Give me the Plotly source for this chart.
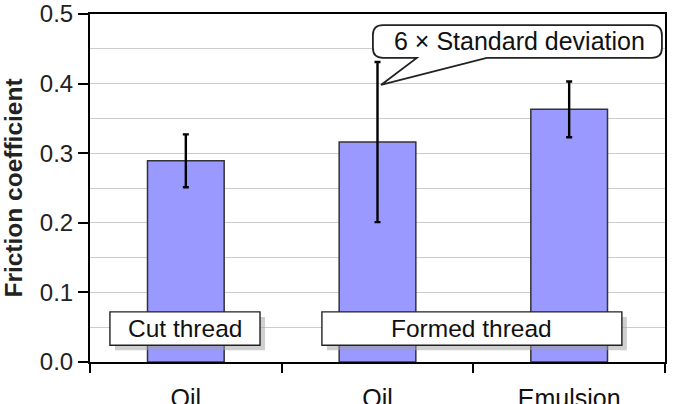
import plotly.graph_objects as go

categories = ["Oil", "Oil", "Emulsion"]
friction = [0.289, 0.316, 0.363]
errors = [0.038, 0.115, 0.040]
y_ticks = [0.0, 0.1, 0.2, 0.3, 0.4, 0.5]

x_pos = list(range(len(categories)))
fig = go.Figure()
fig.add_trace(go.Bar(
    x=x_pos, y=friction, width=0.4,
    marker=dict(color="#9999ff", line=dict(color="#333333", width=1.5)),
    error_y=dict(type="data", array=errors, color="black", thickness=2.4, width=3),
))

# pixel helpers (plot area 575 x 348 px)
px_x = 3 / 575
px_y = 0.5 / 348

def box(x0, x1, y0, y1):
    # shadow
    fig.add_shape(type="rect", x0=x0 + 5 * px_x, x1=x1 + 5 * px_x, y0=y0 - 5 * px_y, y1=y1 - 5 * px_y,
                  fillcolor="rgba(160,160,160,0.5)", line=dict(width=0), layer="above")
    fig.add_shape(type="rect", x0=x0, x1=x1, y0=y0, y1=y1,
                  fillcolor="white", line=dict(color="#222", width=1.4), layer="above")

box(-0.396, 0.387, 0.024, 0.072)
box(0.71, 2.275, 0.024, 0.072)

# callout
x0, x1, y0, y1 = 0.976, 2.484, 0.437, 0.484
rx, ry = 10 * px_x, 10 * px_y
bx0, bx1 = 1.205, 1.57
tipx, tipy = 1.018, 0.398
path = (f"M {x0+rx},{y1} L {x1-rx},{y1} Q {x1},{y1} {x1},{y1-ry} L {x1},{y0+ry} Q {x1},{y0} {x1-rx},{y0} "
        f"L {bx1},{y0} L {tipx},{tipy} L {bx0},{y0} L {x0+rx},{y0} Q {x0},{y0} {x0},{y0+ry} "
        f"L {x0},{y1-ry} Q {x0},{y1} {x0+rx},{y1} Z")
fig.add_shape(type="path", path=path, fillcolor="white", line=dict(color="#222", width=1.8), layer="above")

fnt = dict(family="Liberation Sans, Arial", size=25, color="#111")
fig.add_annotation(x=1.74, y=0.461, text="6 × Standard deviation", showarrow=False, font=fnt)
fig.add_annotation(x=-0.004, y=0.048, text="Cut thread", showarrow=False, font=dict(fnt, size=24.5))
fig.add_annotation(x=1.49, y=0.048, text="Formed thread", showarrow=False, font=dict(fnt, size=24.5))

fig.update_layout(
    width=673, height=404,
    margin=dict(l=90, r=8, t=14, b=42),
    plot_bgcolor="white", paper_bgcolor="white",
    showlegend=False,
    font=dict(family="Liberation Sans, Arial", color="#222"),
    xaxis=dict(
        range=[-0.5, 2.5], tickvals=x_pos, ticktext=categories, automargin=False,
        ticks="outside", ticklen=13, tickcolor="rgba(0,0,0,0)",
        tickfont=dict(size=25, color="#111"),
        showline=True, linecolor="black", linewidth=2, mirror=True,
        showgrid=False, zeroline=False,
        minor=dict(tickvals=[-0.5, 0.5, 1.5, 2.5], ticks="outside", ticklen=9, tickcolor="black", tickwidth=1.5),
    ),
    yaxis=dict(
        range=[0, 0.5], tickvals=y_ticks, ticktext=[f"{v:.1f}" for v in y_ticks], automargin=False,
        ticks="outside", ticklen=10, tickcolor="black", tickwidth=1.5,
        tickfont=dict(size=24, color="#222"),
        showline=True, linecolor="black", linewidth=2, mirror=True,
        showgrid=True, gridcolor="#cccccc", gridwidth=1, zeroline=False,
        minor=dict(dtick=0.05, showgrid=True, gridcolor="#cccccc", gridwidth=1),
        title=dict(text="<b>Friction coefficient</b>", font=dict(size=24.5, color="#222"), standoff=14),
    ),
)

fig.write_html("out.html")
